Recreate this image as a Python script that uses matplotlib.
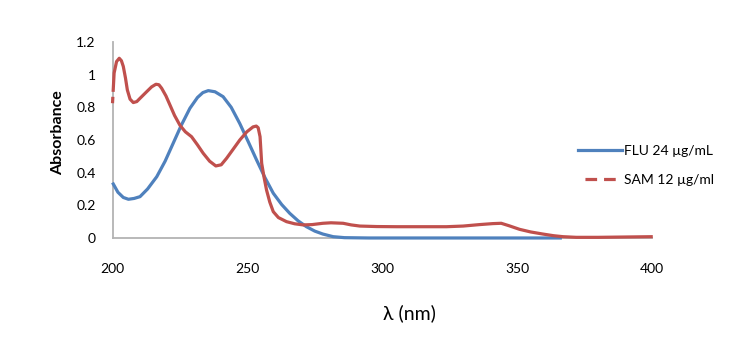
import matplotlib
matplotlib.use("Agg")
from matplotlib import pyplot as plt
from matplotlib.lines import Line2D

# FLU 24 ug/mL
flu_nm = [200, 202, 204, 205.9, 208, 210.2, 213, 216.4, 219.5, 222.5, 225.5, 228.7, 231.5,
          233.5, 235.5, 238, 241, 244, 247.2, 250.3, 253.4, 256.5, 259.6, 262.7, 265.7,
          268.8, 271.9, 275, 278, 281.8, 286, 295, 320, 345, 366.6]
flu_abs = [0.339, 0.28, 0.248, 0.237, 0.242, 0.253, 0.3, 0.375, 0.47, 0.58, 0.69, 0.794, 0.86,
           0.89, 0.902, 0.895, 0.865, 0.8, 0.70, 0.59, 0.478, 0.37, 0.274, 0.205, 0.151,
           0.105, 0.069, 0.042, 0.024, 0.008, 0.002, 0.0, 0.0, 0.0, 0.0]

# SAM 12 ug/ml
sam_nm = [200, 200.6, 201.5, 202.5, 203.3, 204, 204.8, 205.5, 206.5, 207.7, 209, 210.2, 212.7,
          214.5, 216.1, 217.2, 218.2, 219.8, 221.3, 223, 225, 227, 229.3, 231.5, 233.6, 236,
          238.3, 240.3, 242.3, 244.8, 247.2, 249.8, 252.1, 253.3, 254, 254.7, 255.3, 256.2,
          257.1, 258.3, 259.6, 261.5, 264.5, 267.5, 270.7, 274, 278, 281, 285.5, 288.5, 291.7,
          298, 305.3, 315, 323.8, 330, 336.1, 341, 344.1, 347, 350.9, 355, 359.6, 363.5, 367,
          371.9, 380, 390, 400.3]
sam_abs = [0.825, 1.01, 1.08, 1.10, 1.085, 1.05, 0.98, 0.906, 0.85, 0.829, 0.835, 0.855, 0.896,
           0.925, 0.941, 0.938, 0.917, 0.87, 0.814, 0.75, 0.69, 0.65, 0.62, 0.57, 0.519, 0.47,
           0.441, 0.448, 0.488, 0.545, 0.60, 0.65, 0.68, 0.685, 0.675, 0.62, 0.457, 0.37,
           0.294, 0.22, 0.161, 0.125, 0.10, 0.087, 0.08, 0.082, 0.09, 0.093, 0.09, 0.08, 0.073,
           0.07, 0.069, 0.069, 0.069, 0.073, 0.082, 0.088, 0.09, 0.075, 0.053, 0.037, 0.024, 0.014, 0.008,
           0.004, 0.004, 0.006, 0.008]

blue = "#4F81BD"
red = "#C0504D"
font = ["Lato", "DejaVu Sans"]
lw = 2.3

fig = plt.figure(figsize=(7.32, 3.38), dpi=100)
ax = fig.add_axes([0.1537, 0.2959, 0.737, 0.58])

ax.plot(flu_nm, flu_abs, color=blue, lw=lw, solid_capstyle="butt", solid_joinstyle="round",
        clip_on=False)
# dash lengths are in multiples of the line width
ax.plot(sam_nm, sam_abs, color=red, lw=lw,
        linestyle=(0, (4.6 / lw, 3.6 / lw, 100000, 1)),
        dash_capstyle="butt", dash_joinstyle="round", clip_on=False)

ax.set_xlim(200, 400)
ax.set_ylim(0, 1.2)
ax.set_xticks([200, 250, 300, 350, 400])
ax.set_yticks([0, 0.2, 0.4, 0.6, 0.8, 1.0, 1.2])
ax.set_yticklabels(["0", "0.2", "0.4", "0.6", "0.8", "1", "1.2"])
ax.tick_params(length=0, labelsize=10, colors="#000000")
ax.tick_params(axis="x", pad=18)
ax.tick_params(axis="y", pad=12)
for lab in ax.get_xticklabels() + ax.get_yticklabels():
    lab.set_family(font)

for s in ["top", "right"]:
    ax.spines[s].set_visible(False)
for s in ["left", "bottom"]:
    ax.spines[s].set_color("#B3B3B3")
    ax.spines[s].set_linewidth(1.3)
    ax.spines[s].set_zorder(0.5)

ax.set_ylabel("Absorbance", fontsize=11.5, fontweight="bold", family=font)
ax.yaxis.set_label_coords(-0.1, 0.538)
ax.yaxis.label.set_va("center")
ax.set_xlabel("λ (nm)", fontsize=14, family=font)
ax.xaxis.set_label_coords(0.551, -0.383)
ax.xaxis.label.set_va("center")

handles = [Line2D([], [], color=blue, lw=lw),
           Line2D([], [], color=red, lw=lw, linestyle=(8.4 / lw, (8.4 / lw, 5.0 / lw)))]
fig.legend(handles, ["FLU 24 µg/mL", "SAM 12 µg/ml"], loc="center left",
           bbox_to_anchor=(0.772, 0.51), frameon=False, handlelength=3.2,
           handletextpad=0.15, labelspacing=1.2, prop={"family": font, "size": 10})

fig.savefig("out.png", dpi=100)
